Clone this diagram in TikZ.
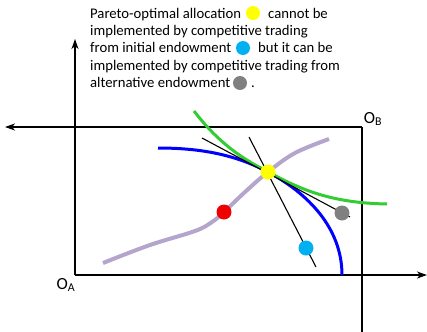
\documentclass[tikz,border=0pt]{standalone}
\usepackage{fontspec}
\setmainfont{Carlito}
\usetikzlibrary{arrows.meta}
\definecolor{ptyellow}{HTML}{FFFF00}
\definecolor{ptred}{HTML}{EE0000}
\definecolor{ptcyan}{HTML}{00B0F0}
\definecolor{ptgray}{HTML}{808080}
\definecolor{ptgreen}{HTML}{33CC33}
\definecolor{ptlav}{HTML}{B4A5CC}
\tikzset{
  axis/.style={line width=2.2bp, -{Stealth[length=10bp,width=7bp,inset=3bp]}},
  axisline/.style={line width=2.2bp},
  txt/.style={anchor=base west, inner sep=0pt, font=\fontsize{14.7bp}{17bp}\selectfont},
  dot/.style={circle, inner sep=0pt, minimum size=15bp, fill=#1},
  tdot/.style={circle, inner sep=0pt, minimum size=14bp, fill=#1},
  lbl/.style={inner sep=0pt, font=\fontsize{17bp}{17bp}\selectfont},
  tang/.style={line width=1.1bp, black},
}
\begin{document}
\begin{tikzpicture}[x=1bp,y=-1bp]
\useasboundingbox (0,0) rectangle (427,332);
% coordinates
\coordinate (oA) at (75,275);
\coordinate (aTop) at (75,39);
\coordinate (aRight) at (427,275);
\coordinate (oB) at (362,127);
\coordinate (bLeft) at (5,127);
\coordinate (bDown) at (362,332);
% axes
\draw[axis] (oA) -- (aTop);
\draw[axis] (oA) -- (aRight);
\draw[axis] (oB) -- (bLeft);
\draw[axisline] (oB) -- (bDown);
\node[lbl] (oa) at (66,285) {O\textsubscript{A}};
\node[lbl] (ob) at (373,119) {O\textsubscript{B}};
% contract curve
\draw[ptlav, line width=4bp, line cap=butt] plot[smooth, tension=0.6] coordinates {(103,263) (150,245) (195,231) (212,222) (224,212) (245,192) (268,172) (295,153) (329,139)};
% indifference curves
\draw[blue, line width=3bp] (158,148) .. controls (200,148) and (235,154.4) .. (268,172) .. controls (308,193.4) and (342,228) .. (342,275);
\draw[ptgreen, line width=3bp] (194,111) .. controls (220,145) and (245,160) .. (268,172) .. controls (300,189) and (330,203) .. (387,204);
% price lines
\coordinate (t1a) at (202,138);
\coordinate (t1b) at (350,217);
\coordinate (t2a) at (249,137);
\coordinate (t2b) at (316,267);
\draw[tang] (t1a) -- (t1b);
\draw[tang] (t2a) -- (t2b);
% points
\node[dot=ptyellow] (pareto) at (268,172) {};
\node[dot=ptred] (eq) at (224,212) {};
\node[dot=ptgray] (alt) at (342,213) {};
\node[dot=ptcyan] (init) at (306,248) {};
% caption
\node[txt] (l1a) at (90,18) {Pareto-optimal allocation};
\node[tdot=ptyellow] (d1) at (253,13) {};
\node[txt] (l1b) at (268,18) {cannot be};
\node[txt] (l2) at (90,35) {implemented by competitive trading};
\node[txt] (l3a) at (90,52.5) {from initial endowment};
\node[tdot=ptcyan] (d2) at (243,48) {};
\node[txt] (l3b) at (258,52.5) {but it can be};
\node[txt] (l4) at (90,70) {implemented by competitive trading from};
\node[txt] (l5a) at (90,87.5) {alternative endowment};
\node[tdot=ptgray] (d3) at (240,83) {};
\node[txt] (l5b) at (251,87.5) {.};
\end{tikzpicture}
\end{document}
